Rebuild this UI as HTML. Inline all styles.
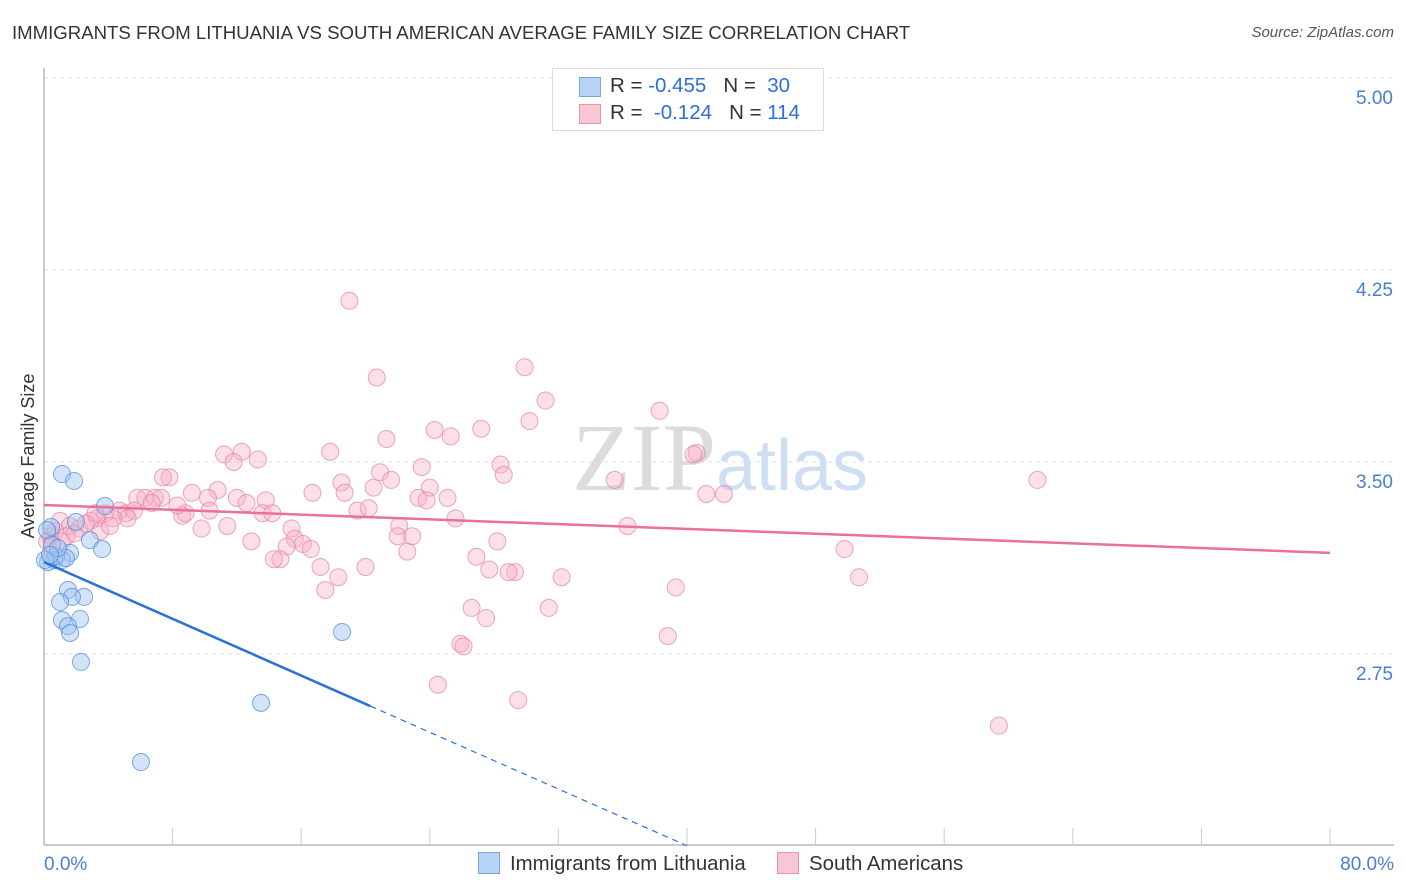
<!DOCTYPE html>
<html><head><meta charset="utf-8">
<style>
body{margin:0;background:#fff;font-family:"Liberation Sans",sans-serif;}
#wrap{position:relative;width:1406px;height:892px;overflow:hidden;}
.t{position:absolute;white-space:nowrap;}
</style></head>
<body>
<div id="wrap">
<div class="t" style="left:12px;top:22px;font-size:18.6px;color:#333;">IMMIGRANTS FROM LITHUANIA VS SOUTH AMERICAN AVERAGE FAMILY SIZE CORRELATION CHART</div>
<div class="t" style="right:12px;top:24px;font-size:15px;color:#555;font-style:italic;">Source: ZipAtlas.com</div>
<svg id="plot" width="1406" height="892" style="position:absolute;left:0;top:0"></svg>
</div>
<script>
const yTicks=[5.00,4.25,3.50,2.75];
const xTickLabels=["0.0%","80.0%"];
const blueX=[1.12,1.87,3.79,1.99,0.44,2.86,3.61,1.62,0.62,1.12,0.25,0.75,1.37,1.49,2.49,1.74,1.0,1.12,2.24,1.49,1.62,2.30,18.54,13.5,6.03,0.19,0.5,0.87,0.06,0.37];
const blueY=[3.453,3.426,3.328,3.266,3.246,3.195,3.160,3.145,3.117,3.117,3.109,3.133,3.125,3.0,2.973,2.973,2.953,2.883,2.887,2.859,2.832,2.719,2.836,2.559,2.328,3.234,3.176,3.164,3.117,3.137];
const pinkX=[19.0,20.7,29.9,31.2,38.3,30.2,21.3,24.3,25.3,27.2,17.8,11.2,12.3,11.8,13.3,7.8,7.4,20.9,21.6,23.5,28.4,28.6,40.6,40.4,35.5,61.8,18.5,18.7,20.5,24.0,23.3,25.1,23.8,16.7,9.2,10.8,12.0,13.8,12.6,5.8,6.3,6.9,7.3,6.7,4.7,5.1,5.6,5.2,3.8,4.3,3.3,8.6,8.8,10.2,10.3,8.3,19.5,20.2,13.6,14.2,25.6,22.1,15.4,22.0,22.9,11.4,9.8,12.9,15.6,16.1,16.6,15.1,22.6,28.2,26.9,27.7,29.3,28.9,32.2,36.3,41.2,42.3,49.8,50.7,39.3,17.5,18.3,20.0,17.2,14.7,14.3,26.6,31.4,27.5,38.8,25.9,26.1,24.5,29.5,59.4,1.0,1.6,2.2,0.4,0.7,1.4,1.9,2.9,3.2,0.2,0.5,2.6,3.5,4.1,1.1];
const pinkY=[4.13,3.83,3.87,3.74,3.70,3.66,3.59,3.625,3.60,3.63,3.54,3.53,3.54,3.50,3.51,3.44,3.44,3.46,3.43,3.48,3.49,3.45,3.535,3.53,3.43,3.43,3.42,3.38,3.40,3.40,3.36,3.36,3.35,3.38,3.38,3.39,3.36,3.35,3.34,3.36,3.36,3.36,3.36,3.34,3.31,3.30,3.31,3.28,3.30,3.28,3.28,3.29,3.30,3.36,3.31,3.33,3.31,3.32,3.30,3.30,3.28,3.25,3.24,3.21,3.21,3.25,3.24,3.19,3.20,3.18,3.16,3.17,3.15,3.19,3.13,3.08,3.07,3.07,3.05,3.25,3.375,3.375,3.16,3.05,3.01,3.00,3.05,3.09,3.09,3.12,3.12,2.93,2.93,2.89,2.82,2.79,2.78,2.63,2.57,2.47,3.27,3.25,3.24,3.21,3.23,3.21,3.22,3.27,3.30,3.19,3.18,3.26,3.23,3.25,3.19];
const blueTrend=[3.109,-0.0277,20.3,40];
const pinkTrend=[3.332,3.145];
const NS="http://www.w3.org/2000/svg";
const svg=document.getElementById('plot');
const X=v=>44+v/80*1286;
const Y=v=>78+(5-v)*256;
function mk(t,a){const e=document.createElementNS(NS,t);for(const k in a)e.setAttribute(k,a[k]);svg.appendChild(e);return e;}
yTicks.forEach(v=>{
 const g=mk('line',{x1:44,x2:1394,y1:Y(v),y2:Y(v),stroke:'#e2e2e2','stroke-dasharray':'4,4'});
 
 
 const t=mk('text',{x:1393,y:Y(v)+26,'text-anchor':'end','font-size':19,fill:'#4a7fd0','font-family':'Liberation Sans'});
 t.textContent=v.toFixed(2);
 
 
});
const ya=mk('line',{x1:44,x2:44,y1:68,y2:845,stroke:'#bbb','stroke-width':1.5});


const xa=mk('line',{x1:44,x2:1394,y1:845,y2:845,stroke:'#bbb','stroke-width':1.5});


for(let i=1;i<=10;i++){const tk=mk('line',{x1:X(i*8),x2:X(i*8),y1:828,y2:845,stroke:'#ccc'});
 
 }
[[0,'start',44],[80,'end',1394]].forEach((d,i)=>{const t=mk('text',{x:d[2],y:870,'text-anchor':d[1],'font-size':19,fill:'#4a7fd0','font-family':'Liberation Sans'});t.textContent=xTickLabels[i];
 
 });
const yt=mk('text',{x:0,y:0,transform:'translate(34,456) rotate(-90)','text-anchor':'middle','font-size':18,fill:'#333','font-family':'Liberation Sans'});
yt.textContent='Average Family Size';


const wm=mk('text',{x:720,y:490,'text-anchor':'middle','font-size':96,'font-family':'Liberation Serif','fill':'#dcdcdc'});
wm.innerHTML='ZIP<tspan font-family="Liberation Sans" font-size="72" fill="#cfdff3">atlas</tspan>';


pinkX.forEach((x,i)=>{const c=mk('circle',{cx:X(x),cy:Y(pinkY[i]),r:8.5,fill:'rgba(248,176,198,0.4)',stroke:'rgba(230,130,165,0.7)','stroke-width':1});
 
 });
blueX.forEach((x,i)=>{const c=mk('circle',{cx:X(x),cy:Y(blueY[i]),r:8.5,fill:'rgba(160,196,240,0.45)',stroke:'rgba(80,140,220,0.75)','stroke-width':1});
 
 });
const pl=mk('line',{x1:X(0),y1:Y(pinkTrend[0]),x2:X(80),y2:Y(pinkTrend[1]),stroke:'#e8709a','stroke-width':2.5});


const bf=x=>blueTrend[0]+blueTrend[1]*x;
const bl=mk('line',{x1:X(0),y1:Y(bf(0)),x2:X(blueTrend[2]),y2:Y(bf(blueTrend[2])),stroke:'#2a70d8','stroke-width':2.5});


const bd=mk('line',{x1:X(blueTrend[2]),y1:Y(bf(blueTrend[2])),x2:X(blueTrend[3]),y2:Y(bf(blueTrend[3])),stroke:'#2a70d8','stroke-width':1.2,'stroke-dasharray':'6,5'});


</script>
<div class="t" style="left:552px;top:68px;width:270px;height:61px;border:1px solid #ddd;background:#fff;font-size:20.5px;color:#333;">
 <div style="position:absolute;left:26px;top:8px;width:20px;height:18px;background:#b8d3f5;border:1px solid #7aa6e0;"></div>
 <div class="t" style="left:57px;top:5px;">R = <span style="color:#2a70d8">-0.455</span>&nbsp;&nbsp;&nbsp;N = &nbsp;<span style="color:#2a70d8">30</span></div>
 <div style="position:absolute;left:26px;top:35px;width:20px;height:18px;background:#f9c6d5;border:1px solid #eb94b0;"></div>
 <div class="t" style="left:57px;top:32px;">R = &nbsp;<span style="color:#2a70d8">-0.124</span>&nbsp;&nbsp;&nbsp;N = <span style="color:#2a70d8">114</span></div>
</div>
<div class="t" style="left:478px;top:852px;font-size:20.4px;color:#333;"><span style="display:inline-block;width:20px;height:20px;background:#b8d3f5;border:1px solid #7aa6e0;vertical-align:-4px;margin-right:10px;"></span>Immigrants from Lithuania</div>
<div class="t" style="left:777px;top:852px;font-size:20.4px;color:#333;"><span style="display:inline-block;width:20px;height:20px;background:#f9c6d5;border:1px solid #eb94b0;vertical-align:-4px;margin-right:10px;"></span>South Americans</div>
</body></html>
